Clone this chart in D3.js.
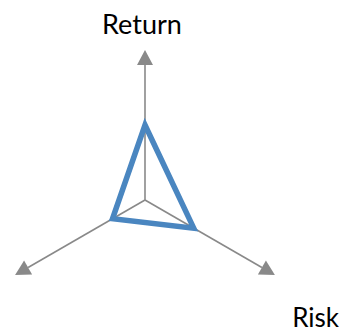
<!DOCTYPE html>
<html><head><meta charset="utf-8">
<script src="https://cdn.jsdelivr.net/npm/d3@7"></script>
<style>html,body{margin:0;padding:0;background:#fff;}svg{display:block;}</style>
</head><body>
<script>
const axes = ["Return", "Risk", ""];
const values = [2, 1.5, 1];
const axisMax = 4;

const W = 343, H = 332;
const cx = 145, cy = 200, R = 150;
const svg = d3.select("body").append("svg").attr("width", W).attr("height", H);

const r = d3.scaleLinear().domain([0, axisMax]).range([0, R]);
// angles: Return up, Risk lower-right, third lower-left
const angle = d3.scaleOrdinal().domain([0,1,2]).range([-90, 30, 150].map(a => a * Math.PI / 180));
const pt = (i, v) => [cx + r(v) * Math.cos(angle(i)), cy + r(v) * Math.sin(angle(i))];

// axis lines
svg.selectAll("line.ax").data(axes).join("line").attr("class", "ax")
  .attr("x1", cx).attr("y1", cy)
  .attr("x2", (d, i) => pt(i, axisMax)[0] - 15 * Math.cos(angle(i)))
  .attr("y2", (d, i) => pt(i, axisMax)[1] - 15 * Math.sin(angle(i)))
  .attr("stroke", "#898989").attr("stroke-width", 1.6);
// arrowheads
svg.selectAll("path.ah").data(axes).join("path").attr("class", "ah")
  .attr("d", (d, i) => {
    const a = angle(i), [tx, ty] = pt(i, axisMax);
    const bx = tx - 15 * Math.cos(a), by = ty - 15 * Math.sin(a);
    const px = -Math.sin(a) * 8, py = Math.cos(a) * 8;
    return `M${tx},${ty}L${bx + px},${by + py}L${bx - px},${by - py}Z`;
  })
  .attr("fill", "#898989");

// data polygon
const line = d3.line().curve(d3.curveLinearClosed);
svg.append("path")
  .attr("d", line(values.map((v, i) => pt(i, v))))
  .attr("fill", "none").attr("stroke", "#4A86C0").attr("stroke-width", 5.5)
  .attr("stroke-linejoin", "miter");

// labels
const font = "Lato, 'Open Sans', sans-serif";
svg.append("text").attr("x", 142).attr("y", 34).attr("text-anchor", "middle")
  .attr("font-family", font).attr("font-size", 27).attr("fill", "#000").text(axes[0]);
svg.append("text").attr("x", 339).attr("y", 327).attr("text-anchor", "end")
  .attr("font-family", font).attr("font-size", 26).attr("fill", "#000").text(axes[1]);
</script>
</body></html>
